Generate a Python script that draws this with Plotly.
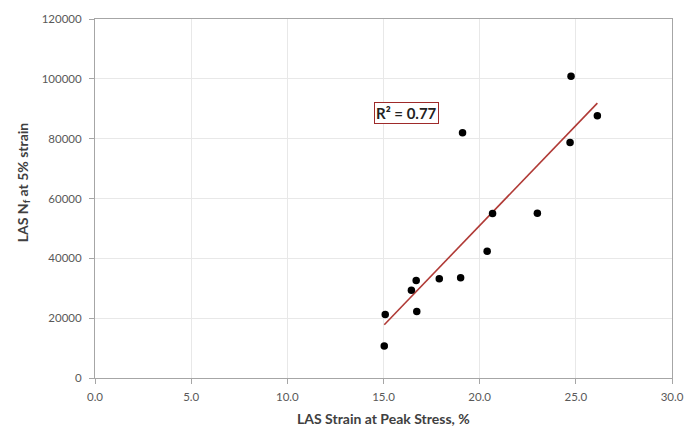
import numpy as np
import plotly.graph_objects as go

# Data
strain_pct = [15.09, 15.04, 16.45, 16.70, 16.73, 17.90, 19.01, 20.39, 20.67,
              23.00, 24.75, 26.12, 24.70, 19.11]
nf_5pct = [21200, 10700, 29300, 32600, 22200, 33200, 33500, 42400, 55000,
           55100, 100900, 87700, 78700, 82000]
x_ticks = [0, 5, 10, 15, 20, 25, 30]
x_tick_labels = ["0.0", "5.0", "10.0", "15.0", "20.0", "25.0", "30.0"]
y_ticks = [0, 20000, 40000, 60000, 80000, 100000, 120000]
y_tick_labels = ["0", "20000", "40000", "60000", "80000", "100000", "120000"]
x_title = "LAS Strain at Peak Stress, %"
y_title = "LAS N<sub>f</sub> at 5% strain"
r2_label = "R² = 0.77"
r2_pos = (16.2, 88600)

# Linear trend line (least squares) over the data range
xa = np.array(strain_pct)
ya = np.array(nf_5pct)
slope, intercept = np.polyfit(xa, ya, 1)
trend_x = [xa.min(), xa.max()]
trend_y = [slope * v + intercept for v in trend_x]

FONT = "Lato, 'Open Sans', Arial, sans-serif"

fig = go.Figure()
fig.add_trace(go.Scatter(
    x=trend_x, y=trend_y, mode="lines",
    line=dict(color="#b03a36", width=1.6),
    hoverinfo="skip", showlegend=False,
))
fig.add_trace(go.Scatter(
    x=strain_pct, y=nf_5pct, mode="markers",
    marker=dict(color="black", size=7.5),
    showlegend=False,
))

fig.add_annotation(
    x=r2_pos[0], y=r2_pos[1], text="<b>" + r2_label + "</b>",
    showarrow=False, font=dict(family=FONT, size=15, color="#222222"),
    bordercolor="#9e2a2a", borderwidth=1, borderpad=1,
    bgcolor="white",
)

# Axis titles as annotations (placed as in the reference)
fig.add_annotation(
    xref="paper", yref="paper", x=0.5, y=-0.113,
    text="<b>" + x_title + "</b>", showarrow=False,
    xanchor="center", yanchor="middle",
    font=dict(family=FONT, size=14, color="#404040"),
)
fig.add_annotation(
    xref="paper", yref="paper", x=-0.125, y=0.545,
    text="<b>" + y_title + "</b>", showarrow=False, textangle=-90,
    xanchor="center", yanchor="middle",
    font=dict(family=FONT, size=14, color="#404040"),
)

axis_common = dict(
    showline=True, linecolor="#a6a6a6", linewidth=1, mirror=True,
    showgrid=True, gridcolor="#e8e8e8", gridwidth=1,
    zeroline=False,
    ticks="outside", ticklen=5, tickcolor="#a6a6a6",
    tickfont=dict(family=FONT, size=11.5, color="#595959"),
)

fig.update_xaxes(
    range=[0, 30], tickmode="array", tickvals=x_ticks, ticktext=x_tick_labels,
    ticklabelstandoff=3,
    **axis_common,
)
fig.update_yaxes(
    range=[0, 120000], tickmode="array", tickvals=y_ticks, ticktext=y_tick_labels,
    ticklabelstandoff=5,
    **axis_common,
)

fig.update_layout(
    width=696, height=432,
    margin=dict(l=95, r=16, t=15, b=54),
    paper_bgcolor="white", plot_bgcolor="white",
)

fig.write_html("out.html")
